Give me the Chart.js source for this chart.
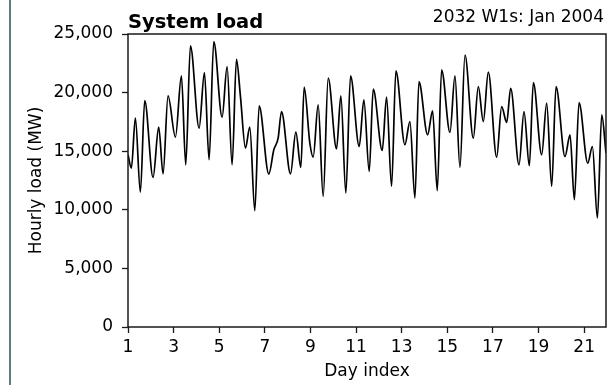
<!DOCTYPE html>
<html>
<head>
<meta charset="utf-8">
<script src="https://cdn.jsdelivr.net/npm/chart.js@4/dist/chart.umd.min.js"></script>
<style>
  html, body { margin: 0; padding: 0; background: #fff; }
  #wrap { width: 610px; height: 385px; }
</style>
</head>
<body>
<div id="wrap"><canvas id="chart" width="610" height="385"></canvas></div>
<script>
// peaks and troughs of the hourly load
const dayIdx = [
  1.0, 1.148, 1.323, 1.543, 1.733, 2.098, 2.347, 2.537, 2.756, 3.079, 3.342, 3.532, 3.737, 4.117,
  4.351, 4.556, 4.760, 5.126, 5.345, 5.565, 5.755, 5.931, 6.150, 6.340, 6.560, 6.750, 7.174, 7.393, 7.583, 7.730,
  8.125, 8.359, 8.578, 8.724, 8.973, 9.119, 9.338, 9.558, 9.777, 10.143, 10.333, 10.552, 10.757, 11.137,
  11.342, 11.576, 11.752, 12.147, 12.337, 12.556, 12.746, 13.141, 13.361, 13.580, 13.756, 14.136, 14.355, 14.560, 14.750,
  15.116, 15.336, 15.555, 15.775, 16.140, 16.359, 16.578, 16.798, 17.164, 17.383, 17.603, 17.778, 18.144, 18.363,
  18.597, 18.772, 19.138, 19.357, 19.577, 19.767, 20.161, 20.381, 20.571, 20.776, 21.157, 21.361, 21.581, 21.771, 21.958
];
const loadMW = [
  14700, 13560, 17820, 11510, 19320, 12760, 17050, 13070, 19720, 16200, 21420, 13840, 23980, 16970,
  21710, 14270, 24350, 17900, 22220, 13840, 22840, 19660, 15260, 17050, 9920, 18870, 13050, 15120, 16110, 18380,
  13070, 16620, 13610, 20460, 15690, 14490, 18950, 11140, 21230, 15200, 19720, 11430, 21420, 15400,
  19380, 13270, 20290, 15060, 19610, 12000, 21850, 15550, 17530, 11000, 20940, 16400, 18440, 11630, 21940,
  16600, 21420, 13610, 23210, 16110, 20520, 17530, 21740, 14490, 18810, 17450, 20370, 13840, 18380,
  13760, 20860, 14690, 19100, 12000, 20520, 14550, 16400, 10860, 19150, 13980, 15400, 9300, 18100, 14840
];
const xTicks = [1, 3, 5, 7, 9, 11, 13, 15, 17, 19, 21];
const yTicks = [0, 5000, 10000, 15000, 20000, 25000];
const titleLeft = "System load";
const titleRight = "2032 W1s: Jan 2004";

const FONT = "'DejaVu Sans', sans-serif";

// box round the plot, the two heading texts, and the grey rule on the far left
const framePlugin = {
  id: "frame",
  afterDraw(chart) {
    const { ctx, chartArea: a } = chart;
    ctx.save();
    ctx.strokeStyle = "#1a1a1a";
    ctx.lineWidth = 1.5;
    ctx.strokeRect(a.left, a.top, a.right - a.left, a.bottom - a.top);

    ctx.fillStyle = "#637a83";
    ctx.fillRect(9, 0, 2, 385);

    ctx.fillStyle = "#000";
    ctx.textBaseline = "alphabetic";
    ctx.font = "bold 19.5px " + FONT;
    ctx.textAlign = "left";
    ctx.fillText(titleLeft, a.left, 28);
    ctx.font = "17px " + FONT;
    ctx.textAlign = "right";
    ctx.fillText(titleRight, a.right - 2, 22);
    ctx.restore();
  }
};

new Chart(document.getElementById("chart"), {
  type: "line",
  data: {
    datasets: [{
      data: dayIdx.map((d, i) => ({ x: d, y: loadMW[i] })),
      borderColor: "#000",
      borderWidth: 1.7,
      pointRadius: 0,
      fill: false,
      cubicInterpolationMode: "monotone"
    }]
  },
  options: {
    responsive: false,
    devicePixelRatio: 1,
    animation: false,
    layout: { padding: { top: 34, right: 4, left: 0, bottom: 0 } },
    plugins: { legend: { display: false }, tooltip: { enabled: false } },
    scales: {
      x: {
        type: "linear",
        min: 1,
        max: 21.958,
        afterFit: s => { s.height = 58; },
        afterBuildTicks: s => { s.ticks = xTicks.map(v => ({ value: v })); },
        grid: { display: true, drawOnChartArea: false, drawTicks: true, tickLength: 6, tickColor: "#1a1a1a", tickWidth: 1.3 },
        border: { display: false },
        ticks: { color: "#000", font: { family: FONT, size: 17 }, padding: 4, maxRotation: 0, autoSkip: false },
        title: { display: true, text: "Day index", color: "#000", font: { family: FONT, size: 17, lineHeight: 1.2 }, padding: { top: 0, bottom: 3 } }
      },
      y: {
        min: 0,
        max: 25000,
        afterFit: s => { s.width = 128; },
        afterBuildTicks: s => { s.ticks = yTicks.map(v => ({ value: v })); },
        grid: { display: true, drawOnChartArea: false, drawTicks: true, tickLength: 6, tickColor: "#1a1a1a", tickWidth: 1.3 },
        border: { display: false },
        ticks: {
          color: "#000",
          font: { family: FONT, size: 17 },
          padding: 9,
          callback: v => v.toLocaleString("en-US")
        },
        title: { display: true, text: "Hourly load (MW)", color: "#000", font: { family: FONT, size: 17, lineHeight: 1.2 }, padding: { top: 26, bottom: 0 } }
      }
    }
  },
  plugins: [framePlugin]
});
</script>
</body>
</html>
